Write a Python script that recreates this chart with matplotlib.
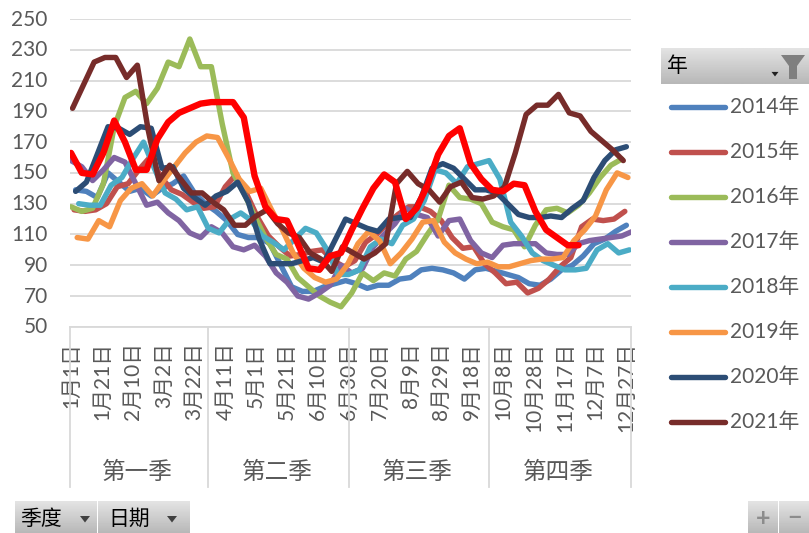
import numpy as np
import matplotlib
matplotlib.use('Agg')
import matplotlib.pyplot as plt
from matplotlib.patches import Polygon
from matplotlib.transforms import ScaledTranslation

plt.rcParams['font.family'] = ['Lato', 'Noto Sans CJK SC']

W, H = 809, 533

# weekly values
y2014 = [139, 138, 134, 150, 144, 138, 140, 135, 140, 143, 148, 137, 130, 125, 119, 110, 108, 108, 104, 90,
         76, 73, 73, 76, 78, 80, 78, 75, 77, 77, 81, 82, 87, 88, 87, 85, 81, 87, 88, 86,
         84, 82, 78, 77, 81, 87, 90, 96, 104, 107, 112, 116]
y2015 = [126, 125, 126, 130, 141, 143, 152, 160, 148, 139, 136, 131, 127, 128, 141, 149, 136, 121, 109, 102,
         96, 97, 99, 100, 93, 89, 93, 105, 110, 117, 123, 128, 128, 125, 119, 108, 101, 102, 91, 85,
         78, 79, 72, 75, 81, 89, 95, 115, 120, 119, 120, 125]
y2016 = [128, 125, 127, 143, 180, 199, 203, 195, 205, 222, 219, 237, 219, 219, 182, 150, 137, 122, 108, 97,
         94, 82, 76, 70, 66, 63, 72, 85, 80, 85, 83, 94, 99, 110, 120, 142, 134, 133, 130, 118,
         115, 113, 102, 116, 126, 127, 124, 129, 137, 147, 155, 159]
y2017 = [158, 154, 145, 152, 160, 157, 143, 129, 131, 124, 119, 111, 108, 115, 111, 102, 100, 103, 96, 85,
         79, 70, 68, 72, 77, 90, 85, 88, 102, 110, 117, 127, 123, 121, 109, 119, 120, 106, 98, 95,
         103, 104, 104, 104, 98, 97, 97, 104, 106, 107, 108, 109, 112]
y2018 = [130, 129, 129, 142, 147, 159, 170, 153, 137, 133, 126, 128, 114, 111, 120, 124, 119, 109, 105, 100,
         107, 114, 111, 100, 84, 84, 87, 102, 107, 104, 116, 120, 132, 152, 150, 143, 154, 156, 158, 146,
         118, 109, 98, 93, 90, 87, 87, 88, 100, 104, 98, 100]
y2019 = [108, 107, 119, 115, 132, 140, 143, 135, 145, 154, 163, 170, 174, 173, 160, 146, 138, 140, 126, 113,
         98, 88, 82, 79, 81, 90, 104, 112, 106, 91, 98, 107, 118, 119, 105, 98, 94, 91, 92, 89,
         89, 91, 93, 94, 94, 95, 106, 113, 122, 139, 150, 147]
y2020 = [138, 144, 162, 180, 179, 175, 180, 179, 153, 154, 140, 134, 129, 135, 138, 144, 131, 107, 91, 91,
         91, 93, 95, 92, 106, 120, 117, 114, 112, 120, 121, 121, 134, 153, 156, 153, 146, 139, 139, 137,
         130, 123, 121, 121, 122, 121, 127, 132, 147, 158, 165, 167]
y2021 = [192, 207, 222, 225, 225, 212, 220, 178, 145, 155, 146, 137, 137, 131, 126, 116, 116, 122, 126, 117,
         111, 108, 98, 94, 86, 102, 98, 94, 98, 104, 143, 151, 143, 139, 131, 141, 144, 134, 133, 135,
         141, 163, 188, 194, 194, 201, 189, 187, 177, 171, 165, 158]
y_red = [163, 150, 149, 163, 184, 170, 152, 152, 172, 183, 189, 192, 195, 196, 196, 196, 186, 148, 128, 120,
         119, 104, 88, 87, 96, 98, 113, 127, 140, 149, 144, 120, 127, 142, 162, 174, 179, 156, 146, 139,
         138, 143, 142, 125, 113, 108, 103, 103]

years = ['2014年', '2015年', '2016年', '2017年', '2018年', '2019年', '2020年', '2021年']
series = [y2014, y2015, y2016, y2017, y2018, y2019, y2020, y2021]
first_day = [3, 2, 0, 0, 5, 4, 3, 1]  # day of year of the first reading
colors = ['#4F81BD', '#C0504D', '#9BBB59', '#8064A2', '#4BACC6', '#F79646', '#2C4D75', '#772C2A']

tick_days = list(range(0, 361, 20))
tick_labels = ['1月1日', '1月21日', '2月10日', '3月2日', '3月22日', '4月11日', '5月1日', '5月21日', '6月10日',
               '6月30日', '7月20日', '8月9日', '8月29日', '9月18日', '10月8日', '10月28日', '11月17日', '12月7日', '12月27日']
quarters = ['第一季', '第二季', '第三季', '第四季']
quarter_edges = [-0.65, 89, 180, 271, 363]

fig = plt.figure(figsize=(W / 100, H / 100), dpi=100)

# overlay in pixel coordinates for the pivot buttons and the legend
bg = fig.add_axes([0, 0, 1, 1], zorder=3)
bg.patch.set_alpha(0)
bg.axis('off')

ax = fig.add_axes([70 / W, 1 - 326.8 / H, 561 / W, (326.8 - 19) / H], zorder=2)
for s, start, c, name in zip(series, first_day, colors, years):
    x = start + 7 * np.arange(len(s))
    ax.plot(x, s, color=c, lw=3.9, solid_capstyle='round', solid_joinstyle='round', label=name)
ax.plot(7 * np.arange(len(y_red)), y_red, color='#FF0000', lw=4.6,
        solid_capstyle='round', solid_joinstyle='round')

ax.set_xlim(-0.65, 363)
ax.set_ylim(50, 250)
ax.set_yticks(range(50, 251, 20))
ax.grid(axis='y', color='#D9D9D9', lw=1.3)
ax.set_axisbelow(True)
for sp in ['top', 'right', 'left']:
    ax.spines[sp].set_visible(False)
ax.spines['bottom'].set_color('#D9D9D9')
ax.spines['bottom'].set_linewidth(1.3)
ax.tick_params(axis='y', length=0, pad=16, labelsize=15, labelcolor='#595959')
up = ScaledTranslation(0, 1.5 / 100, fig.dpi_scale_trans)
for lab in ax.get_yticklabels():
    lab.set_transform(lab.get_transform() + up)
ax.set_xticks(tick_days)
ax.set_xticklabels(tick_labels, rotation=90, fontsize=15, color='#595959', va='top', ha='center')
ax.tick_params(axis='x', length=0, pad=11)

# quarter brackets under the date labels
trans = ax.get_xaxis_transform()
for e in quarter_edges:
    ax.plot([e, e], [0, -0.52], transform=trans, color='#D9D9D9', lw=1.3, clip_on=False, zorder=1)
for q, a, b in zip(quarters, quarter_edges[:-1], quarter_edges[1:]):
    ax.text((a + b) / 2 - 1, -0.472, q, transform=trans, ha='center', va='center', fontsize=17, color='#595959')

bg.set_xlim(0, W)
bg.set_ylim(H, 0)


def button(x0, x1, y0, y1):
    grad = np.linspace(0.89, 0.72, 32).reshape(-1, 1)
    bg.imshow(grad, extent=[x0, x1, y1, y0], cmap='gray', vmin=0, vmax=1, aspect='auto')


def arrow(x, y, size=5, color='#404040'):
    bg.add_patch(Polygon([[x - size, y - size * 0.6], [x + size, y - size * 0.6], [x, y + size * 0.7]],
                         color=color, lw=0))


button(661, 809, 48, 84)
bg.text(667, 66, '年', fontsize=15, color='black', va='center', ha='left')
arrow(775, 74, 3.5, '#202020')
bg.add_patch(Polygon([[781, 55], [805, 55], [797, 66], [797, 79], [789, 79], [789, 66]], color='#7F7F7F', lw=0))

button(15, 97, 501, 533)
button(98, 190, 501, 533)
bg.text(20, 519, '季度', fontsize=15, color='black', va='center', ha='left')
bg.text(108, 519, '日期', fontsize=15, color='black', va='center', ha='left')
arrow(85, 519)
arrow(172, 519)

button(748, 778, 501, 533)
button(779, 809, 501, 533)
bg.text(763, 518, '+', fontsize=18, color='#8C8C8C', va='center', ha='center', fontweight='bold')
bg.text(795, 518, '−', fontsize=18, color='#8C8C8C', va='center', ha='center', fontweight='bold')

# legend entries
legend_y = [107, 152, 197, 242, 287, 332, 377, 422]
for name, c, ly in zip(years, colors, legend_y):
    bg.plot([671, 725], [ly, ly], color=c, lw=3.9, solid_capstyle='round')
    bg.text(730, ly, name, fontsize=15, color='#595959', va='center', ha='left')

bg.set_xlim(0, W)
bg.set_ylim(H, 0)

fig.savefig('out.png', dpi=100)
